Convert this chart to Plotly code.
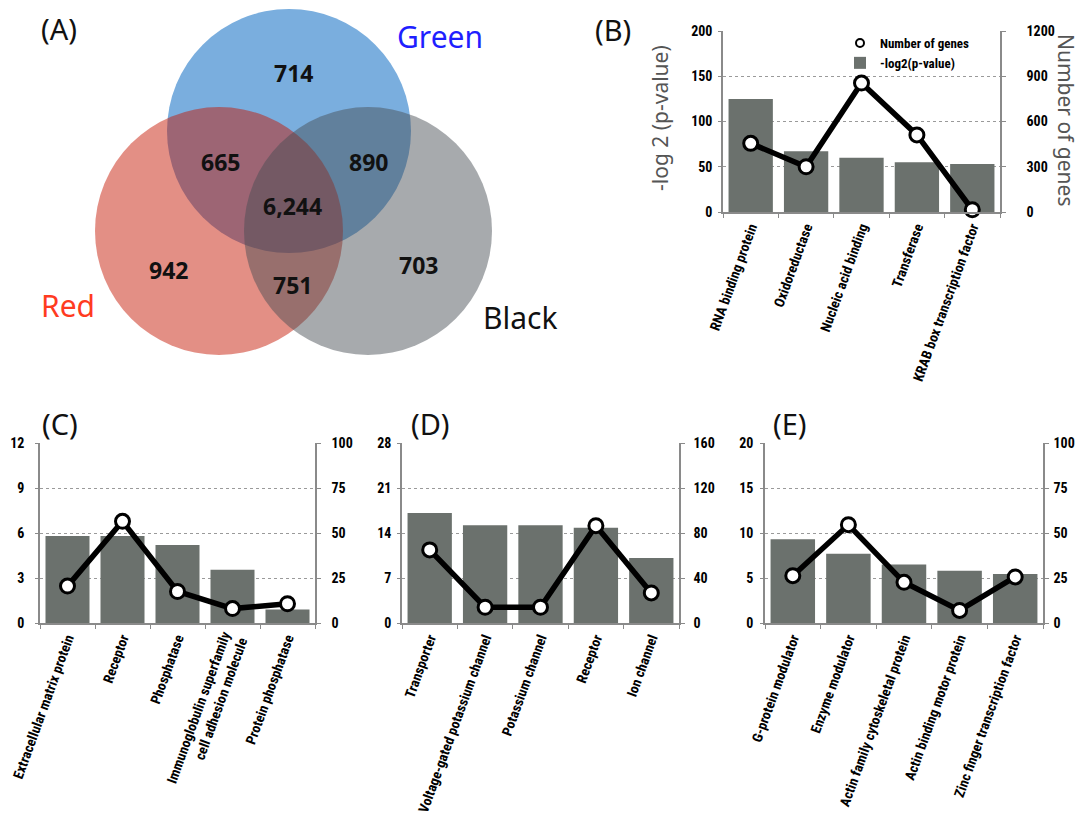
import plotly.graph_objects as go

W, H = 1084, 818
OFF = 8                     # default page (body) margin of the html page
FW, FH = W - OFF, H - OFF   # figure size

# ---------------- data ----------------
venn_sets = ["Green", "Red", "Black"]
venn_regions = ["Green only", "Red & Green", "Green & Black", "All three",
                "Red only", "Red & Black", "Black only"]
venn_counts = [714, 665, 890, 6244, 942, 751, 703]

b_categories = ["RNA binding protein", "Oxidoreductase", "Nucleic acid binding",
                "Transferase", "KRAB box transcription factor"]
b_log2p = [125, 67, 60, 55, 53]
b_genes = [455, 300, 855, 511, 15]

c_categories = ["Extracellular matrix protein", "Receptor", "Phosphatase",
                "Immunoglobulin superfamily<br>cell adhesion molecule", "Protein phosphatase"]
c_log2p = [5.8, 5.8, 5.2, 3.55, 0.9]
c_genes = [20.5, 56.5, 17.5, 8, 10.7]

d_categories = ["Transporter", "Voltage-gated potassium channel", "Potassium channel",
                "Receptor", "Ion channel"]
d_log2p = [17.1, 15.2, 15.2, 14.8, 10.1]
d_genes = [65, 14, 14, 86.5, 26.7]

e_categories = ["G-protein modulator", "Enzyme modulator", "Actin family cytoskeletal protein",
                "Actin binding motor protein", "Zinc finger transcription factor"]
e_log2p = [9.3, 7.7, 6.5, 5.8, 5.45]
e_genes = [26.3, 54.6, 22.6, 7, 25.6]

# ---------------- styling ----------------
BAR = "#6b716d"
AXC = "#8a8a8a"
NARROW = "Liberation Sans Narrow, Roboto Condensed, Arial Narrow, Roboto, sans-serif"
SANS = "Noto Sans, Open Sans, sans-serif"


def px(xp):
    return (xp - OFF) / FW


def py(yp):
    return 1 - (yp - OFF) / FH


fig = go.Figure()

panels = [
    # (categories, bars, genes, x-left px, x-right px, y-top px, y-bottom px,
    #  left max, left dtick, right max, right dtick, left standoff, right standoff)
    (b_categories, b_log2p, b_genes, 723, 1000, 31, 212, 200, 50, 1200, 300, 3, 18),
    (c_categories, c_log2p, c_genes, 40, 315, 443, 623, 12, 3, 100, 25, 8, 8),
    (d_categories, d_log2p, d_genes, 402, 679, 443, 623, 28, 7, 160, 40, 3, 6),
    (e_categories, e_log2p, e_genes, 765, 1043, 443, 623, 20, 5, 100, 25, 4, 2),
]

layout = {}
for i, (cats, bars, genes, x0, x1, y0, y1, lmax, ldt, rmax, rdt, lso, rso) in enumerate(panels):
    xn = "x" if i == 0 else f"x{i + 1}"
    yl = "y" if i == 0 else f"y{2 * i + 1}"
    yr = f"y{2 * i + 2}"
    fig.add_trace(go.Bar(
        x=cats, y=bars, xaxis=xn, yaxis=yl, marker=dict(color=BAR, line=dict(width=0)),
        width=0.8, name="-log2(p-value)", showlegend=(i == 0), legendrank=2,
    ))
    fig.add_trace(go.Scatter(
        x=cats, y=genes, xaxis=xn, yaxis=yr, mode="lines+markers",
        line=dict(color="black", width=5.5),
        marker=dict(symbol="circle", size=14, color="white", line=dict(color="black", width=3)),
        showlegend=False, cliponaxis=False,
    ))
    xk = "xaxis" if i == 0 else f"xaxis{i + 1}"
    ylk = "yaxis" if i == 0 else f"yaxis{2 * i + 1}"
    yrk = f"yaxis{2 * i + 2}"
    layout[xk] = dict(
        domain=[px(x0), px(x1)], anchor=yl, type="category", range=[-0.5, 4.5],
        showline=True, linecolor=AXC, linewidth=1.5, ticks="outside", tickson="boundaries",
        ticklen=4, tickcolor=AXC, tickangle=-70, showgrid=False, automargin=False,
        tickfont=dict(family=NARROW, size=14, color="black", weight="bold"),
    )
    layout[ylk] = dict(
        domain=[py(y1), py(y0)], anchor=xn, range=[0, lmax], dtick=ldt,
        showline=True, linecolor=AXC, linewidth=1.5, ticks="outside", ticklen=3, tickcolor=AXC,
        showgrid=True, gridcolor="#9a9a9a", griddash="dot", gridwidth=1, zeroline=False,
        ticklabelstandoff=lso, automargin=False,
        tickfont=dict(family=NARROW, size=14, color="black", weight="bold"),
    )
    layout[yrk] = dict(
        overlaying=yl, side="right", anchor=xn, range=[0, rmax], dtick=rdt,
        showline=True, linecolor=AXC, linewidth=1.5, ticks="outside", ticklen=4, tickcolor=AXC,
        showgrid=False, zeroline=False, ticklabelstandoff=rso, automargin=False,
        tickfont=dict(family=NARROW, size=14, color="black", weight="bold"),
    )

# legend marker for "Number of genes" (panel B)
fig.add_trace(go.Scatter(
    x=[None], y=[None], mode="markers", name="Number of genes", legendrank=1,
    marker=dict(symbol="circle", size=8, color="white", line=dict(color="black", width=2)),
))

fig.update_layout(**layout)

# ---------------- Venn diagram ----------------
circles = [
    # (centre x px, centre y px, radius px, fill)
    (289, 131, 122, "rgb(122,174,222)"),
    (219, 231, 124, "rgba(197,20,0,0.48)"),
    (368, 231, 124, "rgba(72,78,84,0.48)"),
]
shapes = []
for cx, cy, r, col in circles:
    shapes.append(dict(type="circle", xref="paper", yref="paper",
                       x0=px(cx - r), x1=px(cx + r), y0=py(cy + r), y1=py(cy - r),
                       fillcolor=col, line=dict(width=0), layer="below"))

venn_pos = [(293, 73), (220, 162), (368, 162), (292, 206), (168, 270), (292, 285), (418, 265)]
annotations = []
for (vx, vy), n in zip(venn_pos, venn_counts):
    annotations.append(dict(x=px(vx), y=py(vy), xref="paper", yref="paper", text=f"{n:,}",
                            showarrow=False, xanchor="center", yanchor="middle",
                            font=dict(family=SANS, size=23, color="#111", weight="bold")))

set_pos = [(440, 37, "#1f1fff"), (68, 305, "#ff3b1f"), (520, 318, "#111111")]
for name, (sx, sy, col) in zip(venn_sets, set_pos):
    annotations.append(dict(x=px(sx), y=py(sy), xref="paper", yref="paper", text=name,
                            showarrow=False, xanchor="center", yanchor="middle",
                            font=dict(family=SANS, size=30, color=col)))

# panel letters
for lab, lx, ly in [("(A)", 59, 29), ("(B)", 613, 30), ("(C)", 60, 423),
                    ("(D)", 430, 423), ("(E)", 790, 423)]:
    annotations.append(dict(x=px(lx), y=py(ly), xref="paper", yref="paper", text=lab,
                            showarrow=False, xanchor="center", yanchor="middle",
                            font=dict(family=SANS, size=29, color="#111")))

# axis titles for panel B
annotations.append(dict(x=px(660), y=py(118), xref="paper", yref="paper", text="-log 2 (p-value)",
                        textangle=-90, showarrow=False, xanchor="center", yanchor="middle",
                        font=dict(family=SANS, size=21, color="#555")))
annotations.append(dict(x=px(1066), y=py(120), xref="paper", yref="paper", text="Number of genes",
                        textangle=90, showarrow=False, xanchor="center", yanchor="middle",
                        font=dict(family=SANS, size=21, color="#555")))

fig.update_layout(
    width=FW, height=FH, margin=dict(l=0, r=0, t=0, b=0, pad=0, autoexpand=False),
    paper_bgcolor="white", plot_bgcolor="rgba(0,0,0,0)",
    shapes=shapes, annotations=annotations, bargap=0.2,
    showlegend=True,
    legend=dict(x=px(840), y=py(28), xanchor="left", yanchor="top", bgcolor="rgba(0,0,0,0)",
                font=dict(family=NARROW, size=13, color="black", weight="bold"),
                itemwidth=30, tracegroupgap=0),
)

fig.write_html("out.html")
